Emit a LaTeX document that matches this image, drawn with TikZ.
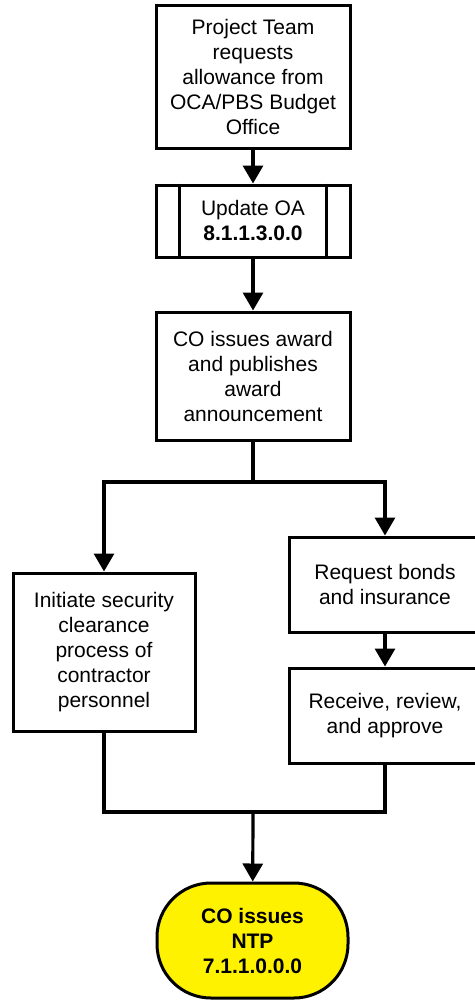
\documentclass[tikz,border=0pt]{standalone}
\usepackage{fontspec}
\setmainfont{Liberation Sans}
\usetikzlibrary{arrows.meta}
\begin{document}
\begin{tikzpicture}[
    x=1pt, y=-1pt,
    >={Triangle[width=20pt,length=18pt]},
    box/.style={
        draw=black,
        line width=3pt,
        align=center,
        inner sep=0pt,
        font=\fontsize{21}{25}\selectfont
    },
    term/.style={
        box,
        fill=yellow,
        rounded corners=54pt,
        font=\fontsize{21}{25}\selectfont\bfseries
    },
    arr/.style={->, line width=3.2pt, draw=black},
    lin/.style={line width=3.2pt, draw=black}
]
    \useasboundingbox (0,0) rectangle (474,1001);

    \node[box, minimum width=194pt, minimum height=143pt] (req) at (253,76.5)
        {Project Team\\requests\\allowance from\\OCA/PBS Budget\\Office};

    \node[box, minimum width=194pt, minimum height=72pt] (oa) at (253,221)
        {Update OA\\\textbf{8.1.1.3.0.0}};
    \draw[line width=3pt] ([xshift=25pt]oa.north west) -- ([xshift=25pt]oa.south west);
    \draw[line width=3pt] ([xshift=-25pt]oa.north east) -- ([xshift=-25pt]oa.south east);

    \node[box, minimum width=194pt, minimum height=128pt] (award) at (253,376)
        {CO issues award\\and publishes\\award\\announcement};

    \node[box, minimum width=182pt, minimum height=158pt] (sec) at (104,652)
        {Initiate security\\clearance\\process of\\contractor\\personnel};

    \node[box, minimum width=192pt, minimum height=95pt] (bonds) at (385,584.5)
        {Request bonds\\and insurance};

    \node[box, minimum width=192pt, minimum height=95pt] (approve) at (385,715.5)
        {Receive, review,\\and approve};

    \node[term, minimum width=191pt, minimum height=115pt] (ntp) at (252.5,940.5)
        {CO issues\\NTP\\7.1.1.0.0.0};

    \coordinate (split) at (253,482);
    \coordinate (join) at (253,812);

    \draw[arr] (req) -- (oa);
    \draw[arr] (oa) -- (award);
    \draw[lin] (award) -- (split);
    \draw[arr] (split) -| (sec);
    \draw[arr] (split) -| (bonds);
    \draw[arr] (bonds) -- (approve);
    \draw[lin] (sec) |- (join) -| (approve);
    \draw[arr] (join) -- (ntp);
\end{tikzpicture}
\end{document}
